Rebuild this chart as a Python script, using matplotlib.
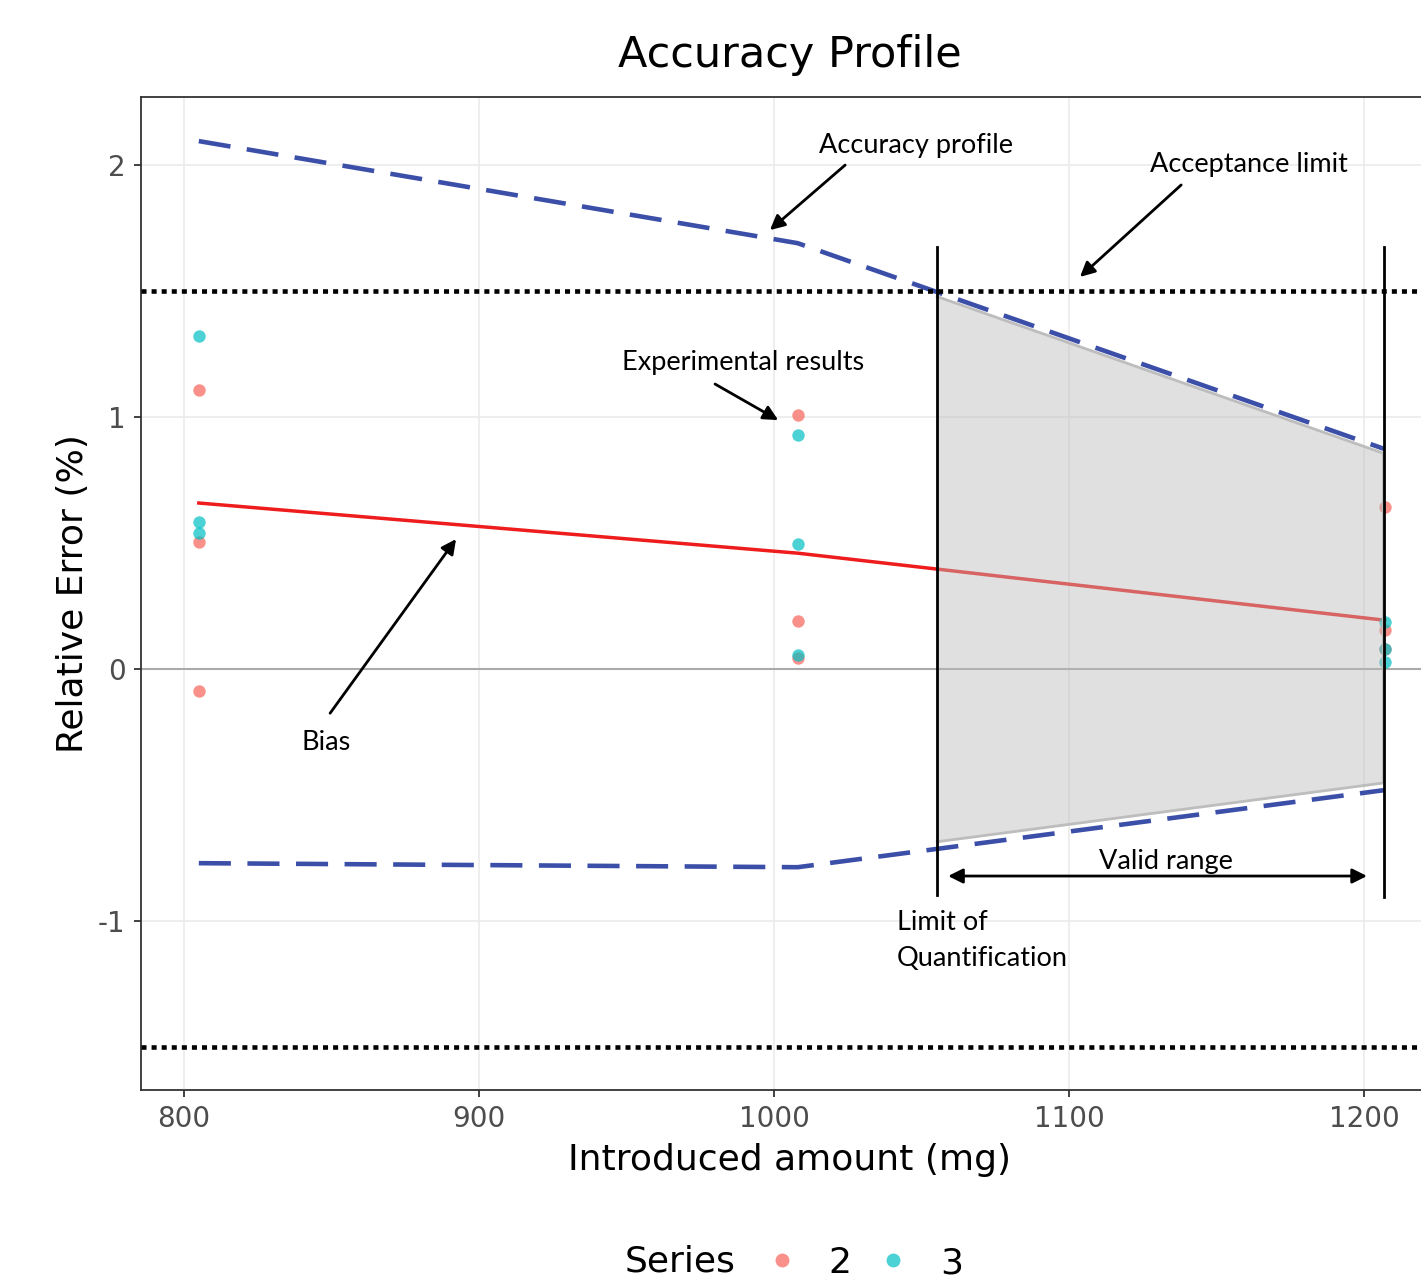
import numpy as np
import matplotlib
matplotlib.use("Agg")
import matplotlib.pyplot as plt
from matplotlib.lines import Line2D

plt.rcParams["axes.unicode_minus"] = False

# introduced amounts (mg) per level
niveles = [805.0, 1008.0, 1207.0]

# experimental results (relative error %), series 2 and 3
x_s2 = [805.0, 805.0, 805.0, 1008.0, 1008.0, 1008.0, 1207.0, 1207.0, 1207.0]
y_s2 = [1.107, 0.504, -0.087, 1.008, 0.19, 0.044, 0.643, 0.155, 0.079]
x_s3 = [805.0, 805.0, 805.0, 1008.0, 1008.0, 1008.0, 1207.0, 1207.0, 1207.0]
y_s3 = [1.321, 0.583, 0.54, 0.929, 0.496, 0.056, 0.187, 0.079, 0.028]

# bias and accuracy profile (tolerance limits)
bias = [0.659, 0.46, 0.194]
perfil_sup = [2.095, 1.69, 0.873]
perfil_inf = [-0.77, -0.786, -0.48]

# acceptance limits
lim_acept = [1.5, -1.5]

# valid range shading
x_valido = [1055.3, 1206.4]
sup_valido = [1.478, 0.857]
inf_valido = [-0.685, -0.452]

# limit of quantification / upper limit
x_loq = 1055.3
x_lsq = 1206.8

col_s2 = "#F8766D"
col_s3 = "#00BFC4"
azul = "#3b4fa8"

fig = plt.figure(figsize=(14.21, 12.75), dpi=100)
ax = fig.add_axes([141/1421, 1-1090/1275, 1-141/1421, (1090-97)/1275])
ax.set_xlim(785.4, 1219.3)
ax.set_ylim(-1.67, 2.27)

##==========================
## grid and axes style
##==========================
ax.set_xticks([800, 900, 1000, 1100, 1200])
ax.set_yticks([-1, 0, 1, 2])
ax.grid(True, color="#ebebeb", lw=1.2)
ax.set_axisbelow(True)
for lado in ["left", "bottom", "top"]:
    ax.spines[lado].set_color("#333333")
    ax.spines[lado].set_linewidth(1.3)
ax.spines["right"].set_visible(False)
ax.tick_params(axis="both", colors="#333333", length=5, width=1.3,
               labelsize=20, labelcolor="#4d4d4d", pad=6)
ax.axhline(0, color="#aaaaaa", lw=1.5, zorder=1)

##==========================
## data layers
##==========================
ax.plot(niveles, bias, color="#ee1c1c", lw=2.5, zorder=3)
ax.scatter(x_s2, y_s2, s=80, color=col_s2, alpha=0.8, lw=0, zorder=4, label="2")
ax.scatter(x_s3, y_s3, s=80, color=col_s3, alpha=0.7, lw=0, zorder=4, label="3")

ax.fill_between(x_valido, inf_valido, sup_valido, color="#bbbbbb", alpha=0.45,
                lw=0, zorder=5)
ax.plot(x_valido, sup_valido, color="#bdbdbd", lw=2, zorder=5)
ax.plot(x_valido, inf_valido, color="#bdbdbd", lw=2, zorder=5)
ax.plot([x_valido[1], x_valido[1]], [inf_valido[1], sup_valido[1]], color="#bdbdbd", lw=1.5, zorder=5)

l1, = ax.plot(niveles, perfil_sup, color=azul, lw=3.3, zorder=6)
l2, = ax.plot(niveles, perfil_inf, color=azul, lw=3.3, zorder=6)
for l in (l1, l2):
    l.set_dashes((7, 3.6))

for v in lim_acept:
    h = ax.axhline(v, color="black", lw=3.3, zorder=6)
    h.set_dashes((1.1, 1.1))

ax.plot([x_loq, x_loq], [1.675, -0.897], color="black", lw=2, zorder=7)
ax.plot([x_lsq, x_lsq], [1.675, -0.905], color="black", lw=2, zorder=7)

##==========================
## annotations
##==========================
fnt = dict(family=["Lato", "DejaVu Sans"], fontsize=19.5, color="black")
flecha = dict(arrowstyle="-|>", color="black", lw=2, mutation_scale=22,
              shrinkA=0, shrinkB=0)

ax.text(1048.1, 2.079, "Accuracy profile", ha="center", va="center", zorder=8, **fnt)
ax.annotate("", xy=(998.6, 1.742), xytext=(1024.1, 2.0), arrowprops=flecha, zorder=8)

ax.text(1161.0, 2.004, "Acceptance limit", ha="center", va="center", zorder=8, **fnt)
ax.annotate("", xy=(1103.7, 1.556), xytext=(1138.0, 1.921), arrowprops=flecha, zorder=8)

ax.text(989.5, 1.218, "Experimental results", ha="center", va="center", zorder=8, **fnt)
ax.annotate("", xy=(1001.4, 0.988), xytext=(980.0, 1.131), arrowprops=flecha, zorder=8)

ax.text(848.1, -0.29, "Bias", ha="center", va="center", zorder=8, **fnt)
ax.annotate("", xy=(892.2, 0.516), xytext=(849.5, -0.175), arrowprops=flecha, zorder=8)

ax.text(1132.9, -0.762, "Valid range", ha="center", va="center", zorder=8, **fnt)
flecha2 = dict(flecha)
flecha2["arrowstyle"] = "<|-|>"
ax.annotate("", xy=(1201.0, -0.821), xytext=(1059.0, -0.821), arrowprops=flecha2, zorder=8)

ax.text(1041.7, -1.004, "Limit of", ha="left", va="center", zorder=8, **fnt)
ax.text(1041.7, -1.147, "Quantification", ha="left", va="center", zorder=8, **fnt)

##==========================
## labels, title, legend
##==========================
fig.text(790/1421, 1-55/1275, "Accuracy Profile", ha="center", va="center", fontsize=31)
ax.set_xlabel("Introduced amount (mg)", fontsize=26)
ax.xaxis.set_label_coords((790-141)/1280, -(1160-1090)/993, transform=ax.transAxes)
ax.xaxis.label.set_va("center")
ax.set_ylabel("Relative Error (%)", fontsize=26, labelpad=6)

fig.text(625/1421, 1-1262/1275, "Series", ha="left", va="center", fontsize=26)
manejadores = [Line2D([], [], marker="o", ls="", color=col_s2, alpha=0.8, markersize=10, mew=0),
               Line2D([], [], marker="o", ls="", color=col_s3, alpha=0.7, markersize=10, mew=0)]
fig.legend(manejadores, ["2", "3"], loc="center left", ncol=2, frameon=False,
           bbox_to_anchor=(760/1421, 1-1263/1275), fontsize=26,
           handletextpad=0.7, columnspacing=0.55, handlelength=1.2,
           borderpad=0, borderaxespad=0)

fig.savefig("out.png", dpi=100)
